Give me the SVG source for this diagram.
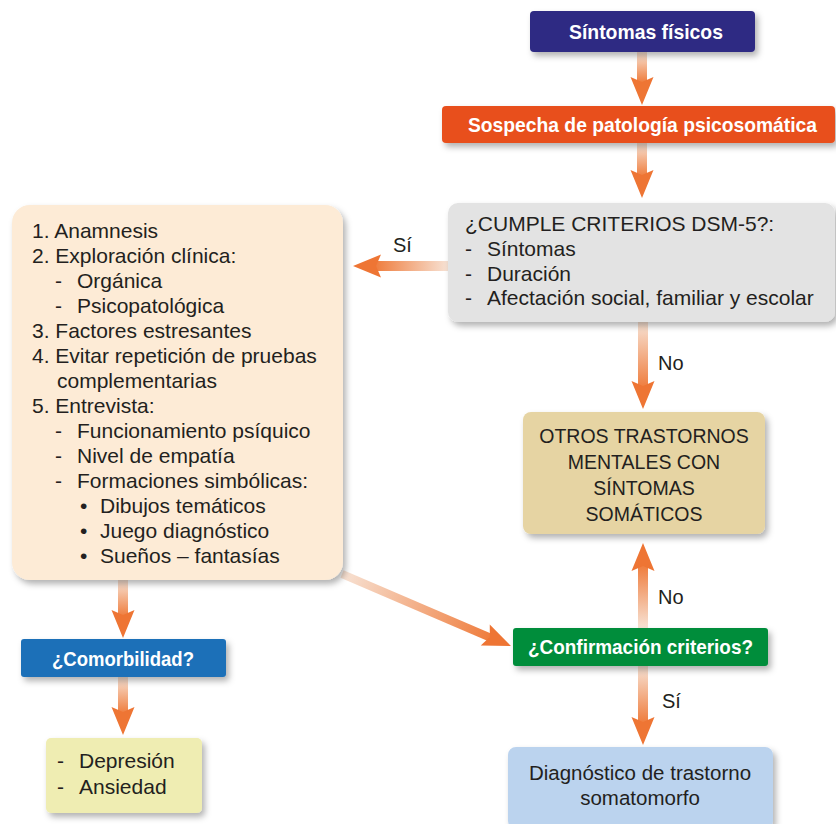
<svg xmlns="http://www.w3.org/2000/svg" width="836" height="824" viewBox="0 0 836 824">
<defs>
<filter id="sh" x="-10%" y="-20%" width="125%" height="150%">
<feDropShadow dx="3" dy="4" stdDeviation="3" flood-color="#000" flood-opacity="0.3"/>
</filter>
<linearGradient id="gDown" x1="0" y1="0" x2="0" y2="1"><stop offset="0" stop-color="#F7E2D4"/><stop offset="1" stop-color="#EF7E3F"/></linearGradient>
<linearGradient id="gUp" x1="0" y1="1" x2="0" y2="0"><stop offset="0" stop-color="#F7E2D4"/><stop offset="1" stop-color="#EF7E3F"/></linearGradient>
<linearGradient id="gLeft" x1="1" y1="0" x2="0" y2="0"><stop offset="0" stop-color="#F7E2D4"/><stop offset="1" stop-color="#EF7E3F"/></linearGradient>
<linearGradient id="gDiag" gradientUnits="userSpaceOnUse" x1="342" y1="574" x2="489" y2="637"><stop offset="0" stop-color="#F7E2D4"/><stop offset="1" stop-color="#EF7E3F"/></linearGradient>
<path id="head" d="M0,0 L-11.5,-28 L0,-23 L11.5,-28 Z"/>
<style>
text{font-family:"Liberation Sans",Arial,sans-serif;fill:#231F20;font-size:21px}
.b{font-weight:bold;fill:#fff;font-size:20.5px;text-anchor:middle}
.c{text-anchor:middle}
.lbl{font-size:20px}
.hd{fill:#EE7534}
</style>
</defs>

<g id="connectors">
<rect x="637" y="52" width="10" height="30" fill="url(#gDown)"/>
<use href="#head" class="hd" transform="translate(642,105)"/>
<rect x="637" y="143" width="10" height="33" fill="url(#gDown)"/>
<use href="#head" class="hd" transform="translate(642,198)"/>
<rect x="376" y="261" width="72" height="10" fill="url(#gLeft)"/>
<use href="#head" class="hd" transform="translate(353,266) rotate(90)"/>
<text x="393" y="252" class="lbl">Sí</text>
<rect x="638" y="322" width="10" height="65" fill="url(#gDown)"/>
<use href="#head" class="hd" transform="translate(643,409)"/>
<text x="658" y="370" class="lbl">No</text>
<rect x="638" y="566" width="10" height="62" fill="url(#gUp)"/>
<use href="#head" class="hd" transform="translate(643,543) rotate(180)"/>
<text x="658" y="604" class="lbl">No</text>
<rect x="638" y="666" width="10" height="56" fill="url(#gDown)"/>
<use href="#head" class="hd" transform="translate(643,745)"/>
<text x="662" y="708" class="lbl">Sí</text>
<rect x="118" y="580" width="10" height="36" fill="url(#gDown)"/>
<use href="#head" class="hd" transform="translate(123,638)"/>
<rect x="118" y="677" width="10" height="36" fill="url(#gDown)"/>
<use href="#head" class="hd" transform="translate(123,735)"/>
<line x1="342" y1="574" x2="490" y2="637.5" stroke="url(#gDiag)" stroke-width="8"/>
<use href="#head" class="hd" transform="translate(511,646) rotate(-66.9)"/>
</g>

<g id="sintomas">
<rect x="530" y="11" width="225" height="41" rx="4" fill="#2E2A83" filter="url(#sh)"/>
<text x="646" y="38.5" class="b" textLength="154" lengthAdjust="spacingAndGlyphs">Síntomas físicos</text>
</g>

<g id="sospecha">
<rect x="442" y="106" width="393" height="37" rx="4" fill="#E8501C" filter="url(#sh)"/>
<text x="642.5" y="132" class="b" textLength="349" lengthAdjust="spacingAndGlyphs">Sospecha de patología psicosomática</text>
</g>

<g id="dsm">
<rect x="448" y="203" width="387" height="119" rx="10" fill="#E3E3E3" filter="url(#sh)"/>
<text x="465" y="231">¿CUMPLE CRITERIOS DSM-5?:</text>
<text x="465" y="256">-</text><text x="487" y="256">Síntomas</text>
<text x="465" y="280.5">-</text><text x="487" y="280.5">Duración</text>
<text x="465" y="305">-</text><text x="487" y="305">Afectación social, familiar y escolar</text>
</g>

<g id="evaluacion">
<rect x="12" y="205" width="331" height="375" rx="18" fill="#FDEBD6" filter="url(#sh)"/>
<text x="32" y="237.5">1. Anamnesis</text>
<text x="32" y="262.5">2. Exploración clínica:</text>
<text x="55" y="287.5">-</text><text x="77" y="287.5">Orgánica</text>
<text x="55" y="312.5">-</text><text x="77" y="312.5">Psicopatológica</text>
<text x="32" y="337.5">3. Factores estresantes</text>
<text x="32" y="362.5">4. Evitar repetición de pruebas</text>
<text x="57" y="387.5">complementarias</text>
<text x="32" y="412.5">5. Entrevista:</text>
<text x="55" y="437.5">-</text><text x="77" y="437.5">Funcionamiento psíquico</text>
<text x="55" y="462.5">-</text><text x="77" y="462.5">Nivel de empatía</text>
<text x="55" y="487.5">-</text><text x="77" y="487.5">Formaciones simbólicas:</text>
<text x="80" y="512.5">•</text><text x="100" y="512.5">Dibujos temáticos</text>
<text x="80" y="537.5">•</text><text x="100" y="537.5">Juego diagnóstico</text>
<text x="80" y="562.5">•</text><text x="100" y="562.5">Sueños – fantasías</text>
</g>

<g id="otros">
<rect x="523" y="412" width="242" height="122" rx="8" fill="#E6D4A3" filter="url(#sh)"/>
<text x="644" y="443" class="c" style="font-size:19.5px">OTROS TRASTORNOS</text>
<text x="644" y="469" class="c" style="font-size:19.5px">MENTALES CON</text>
<text x="644" y="495" class="c" style="font-size:19.5px">SÍNTOMAS</text>
<text x="644" y="521" class="c" style="font-size:19.5px">SOMÁTICOS</text>
</g>

<g id="confirmacion">
<rect x="513" y="628" width="255" height="38" rx="3" fill="#008D3B" filter="url(#sh)"/>
<text x="640.5" y="653.5" class="b" textLength="225" lengthAdjust="spacingAndGlyphs">¿Confirmación criterios?</text>
</g>

<g id="comorbilidad">
<rect x="21" y="639" width="205" height="38" rx="3" fill="#1C70B8" filter="url(#sh)"/>
<text x="123" y="665.5" class="b" textLength="142" lengthAdjust="spacingAndGlyphs">¿Comorbilidad?</text>
</g>

<g id="comorbilidades">
<rect x="46" y="738" width="156" height="75" rx="5" fill="#EFEDB2" filter="url(#sh)"/>
<text x="57" y="768">-</text><text x="79" y="768">Depresión</text>
<text x="57" y="794">-</text><text x="79" y="794">Ansiedad</text>
</g>

<g id="diagnostico">
<rect x="508" y="747" width="265" height="82" rx="8" fill="#BBD3EE" filter="url(#sh)"/>
<text x="640" y="780" class="c" style="font-size:20.5px">Diagnóstico de trastorno</text>
<text x="640" y="805" class="c" style="font-size:20.5px">somatomorfo</text>
</g>
</svg>
